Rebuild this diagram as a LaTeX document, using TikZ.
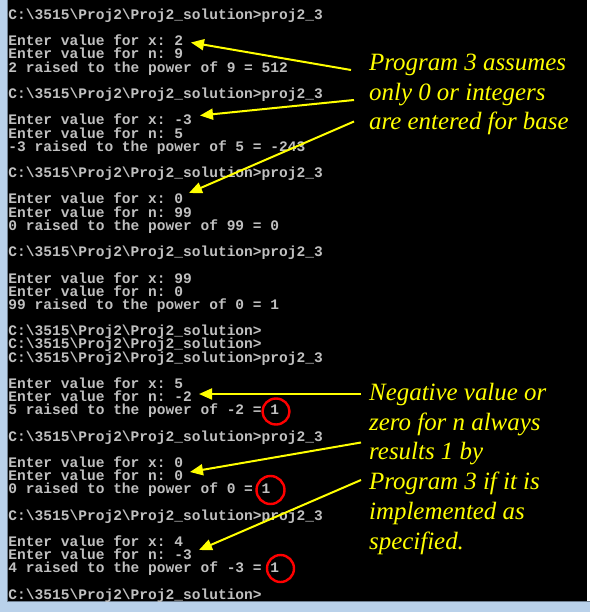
\documentclass[tikz,border=0pt]{standalone}
\usepackage{fontspec}
\usetikzlibrary{arrows.meta}
\newfontfamily\conmono{Liberation Mono}
\newfontfamily\annserif{Liberation Serif}
\definecolor{congray}{HTML}{C0C0C0}
\definecolor{annyel}{HTML}{FFFF00}
\definecolor{framebl}{HTML}{B9D1EA}
\definecolor{frameln}{HTML}{6F7F90}
\definecolor{circred}{HTML}{FF0000}
\newcommand\cpth{C:\textbackslash 3515\textbackslash Proj2\textbackslash Proj2\_solution>}
\tikzset{
  con/.style={anchor=base west, inner sep=0pt, text=congray, font=\conmono\bfseries\fontsize{14.55}{14.55}\selectfont\frenchspacing},
  ann/.style={anchor=base west, inner sep=0pt, text=annyel, font=\annserif\itshape\fontsize{24.9}{24.9}\selectfont},
  yarrow/.style={draw=annyel, line width=2pt, -{Triangle[length=13pt,width=11pt]}},
  rcirc/.style={draw=circred, line width=2.4pt},
}
\newcommand\cl[3]{\node[con] (#1) at (8.3,{19.4+13.18*#2}) {#3};}
\begin{document}
\begin{tikzpicture}[x=1pt,y=-1pt]
\useasboundingbox (0,0) rectangle (590,612);
\fill[black] (0,0) rectangle (590,612);
% window frame
\fill[framebl] (0,0) rectangle (7,612);
\draw[frameln, line width=1pt] (7.5,0) -- (7.5,601);
\fill[framebl] (0,601) rectangle (590,612);
\draw[frameln, line width=1pt] (7,601) -- (590,601);
\fill[white] (587,0) rectangle (590,600.5);
% console text
\cl{l0}{0}{\cpth proj2\_3}
\cl{l2}{2}{Enter value for x: 2}
\cl{l3}{3}{Enter value for n: 9}
\cl{l4}{4}{2 raised to the power of 9 = 512}
\cl{l6}{6}{\cpth proj2\_3}
\cl{l8}{8}{Enter value for x: -3}
\cl{l9}{9}{Enter value for n: 5}
\cl{l10}{10}{-3 raised to the power of 5 = -243}
\cl{l12}{12}{\cpth proj2\_3}
\cl{l14}{14}{Enter value for x: 0}
\cl{l15}{15}{Enter value for n: 99}
\cl{l16}{16}{0 raised to the power of 99 = 0}
\cl{l18}{18}{\cpth proj2\_3}
\cl{l20}{20}{Enter value for x: 99}
\cl{l21}{21}{Enter value for n: 0}
\cl{l22}{22}{99 raised to the power of 0 = 1}
\cl{l24}{24}{\cpth}
\cl{l25}{25}{\cpth}
\cl{l26}{26}{\cpth proj2\_3}
\cl{l28}{28}{Enter value for x: 5}
\cl{l29}{29}{Enter value for n: -2}
\cl{l30}{30}{5 raised to the power of -2 = 1}
\cl{l32}{32}{\cpth proj2\_3}
\cl{l34}{34}{Enter value for x: 0}
\cl{l35}{35}{Enter value for n: 0}
\cl{l36}{36}{0 raised to the power of 0 = 1}
\cl{l38}{38}{\cpth proj2\_3}
\cl{l40}{40}{Enter value for x: 4}
\cl{l41}{41}{Enter value for n: -3}
\cl{l42}{42}{4 raised to the power of -3 = 1}
\cl{l44}{44}{\cpth}
% annotations
\node[ann] (a1) at (369,71) {Program 3 assumes};
\node[ann] (a2) at (369,100.5) {only 0 or integers};
\node[ann] (a3) at (369,130) {are entered for base};
\node[ann] (b1) at (369,400) {Negative value or};
\node[ann] (b2) at (369,430) {zero for n always};
\node[ann] (b3) at (369,459.5) {results 1 by};
\node[ann] (b4) at (369,489.3) {Program 3 if it is};
\node[ann] (b5) at (369,519.3) {implemented as};
\node[ann] (b6) at (369,549.3) {specified.};
% arrow ends
\coordinate (t1) at (351,70);
\coordinate (h1) at (191,42.5);
\coordinate (t2) at (354,100);
\coordinate (h2) at (200,115.5);
\coordinate (t3) at (354,121.5);
\coordinate (h3) at (189,193);
\coordinate (t4) at (361,394);
\coordinate (h4) at (199,394);
\coordinate (t5) at (361,442.5);
\coordinate (h5) at (190,472);
\coordinate (t6) at (361,480);
\coordinate (h6) at (199,550);
\draw[yarrow] (t1) -- (h1);
\draw[yarrow] (t2) -- (h2);
\draw[yarrow] (t3) -- (h3);
\draw[yarrow] (t4) -- (h4);
\draw[yarrow] (t5) -- (h5);
\draw[yarrow] (t6) -- (h6);
% red circles
\draw[rcirc] (276,411.5) ellipse [x radius=13.5, y radius=13];
\draw[rcirc] (270.5,490) ellipse [x radius=14, y radius=14];
\draw[rcirc] (280.5,568.5) ellipse [x radius=13.5, y radius=13.5];
\end{tikzpicture}
\end{document}
